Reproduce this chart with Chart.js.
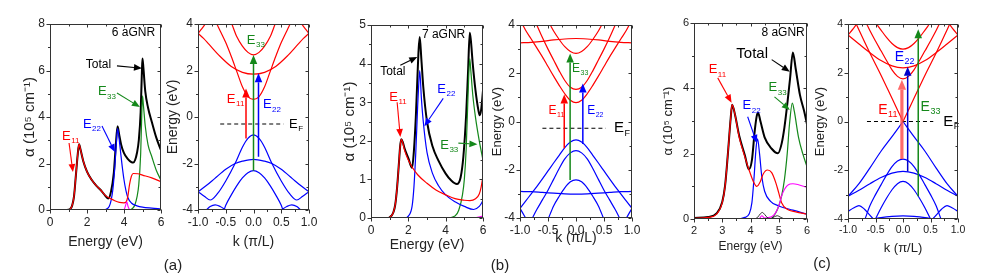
<!DOCTYPE html>
<html>
<head>
<meta charset="utf-8">
<title>aGNR absorption and band structures</title>
<script src="https://cdn.jsdelivr.net/npm/chart.js@4.4.1/dist/chart.umd.min.js"></script>
<style>
  body { margin: 0; background: #fff; }
  #page { position: relative; width: 981px; height: 279px; overflow: hidden; background: #fff;
          font-family: "Liberation Sans", Arial, sans-serif; }
  #page canvas { position: absolute; }
  .tag { position: absolute; width: 40px; text-align: center; font-size: 15px; line-height: 18px; color: #222; }
</style>
</head>
<body>
<div id="page">
  <canvas id="absA"></canvas>
  <canvas id="bandA"></canvas>
  <canvas id="absB"></canvas>
  <canvas id="bandB"></canvas>
  <canvas id="absC"></canvas>
  <canvas id="bandC"></canvas>
  <div class="tag" style="left:153px;top:256px">(a)</div>
  <div class="tag" style="left:480px;top:256px">(b)</div>
  <div class="tag" style="left:802px;top:254px">(c)</div>
</div>
<script>
const RED = '#ff0000', BLUE = '#0000ff', GREEN = '#14881a', BLACK = '#000000', MAGENTA = '#ff00ff';
const FONT = '"Liberation Sans", Arial, sans-serif';

// ---- (a) 6 aGNR absorption: energy (eV) / alpha (10^5 cm^-1)
const e6Red = [0, 0.8, 1.0, 1.1, 1.2, 1.3, 1.4, 1.5, 1.57, 1.65, 1.8, 2.0, 2.25, 2.5, 2.75, 3.0, 3.25, 3.5, 3.75, 4.0, 4.1, 4.2, 4.3, 4.4, 4.5, 4.75, 5.0, 5.5, 6.0];
const a6Red = [0, 0, 0.01, 0.05, 0.2, 0.6, 1.5, 2.4, 2.83, 2.6, 2.1, 1.65, 1.3, 1.05, 0.85, 0.62, 0.5, 0.4, 0.33, 0.31, 0.33, 0.55, 1.1, 1.45, 1.57, 1.56, 1.5, 1.38, 1.22];
const e6Blue = [0, 2.8, 3.0, 3.2, 3.3, 3.4, 3.5, 3.58, 3.65, 3.7, 3.8, 3.9, 4.0, 4.1, 4.2, 4.4, 4.7, 5.0, 5.5, 6.0];
const a6Blue = [0, 0, 0.02, 0.15, 0.4, 0.9, 1.8, 2.8, 3.5, 3.3, 2.6, 1.9, 1.3, 0.85, 0.55, 0.3, 0.18, 0.12, 0.08, 0.05];
const e6Green = [0, 4.3, 4.5, 4.6, 4.7, 4.8, 4.9, 4.95, 5.0, 5.05, 5.15, 5.3, 5.5, 5.75, 6.0];
const a6Green = [0, 0, 0.1, 0.25, 0.55, 1.1, 2.4, 3.8, 4.91, 4.5, 3.6, 2.8, 2.3, 1.7, 1.28];
const e6Mag = [3.9, 4.0, 4.07, 4.15, 4.22, 4.3, 4.4];
const a6Mag = [0, 0.02, 0.15, 0.35, 0.15, 0.02, 0];
const e6Tot = [0, 0.8, 1.0, 1.1, 1.2, 1.3, 1.4, 1.5, 1.57, 1.65, 1.8, 2.0, 2.25, 2.5, 2.75, 3.0, 3.15, 3.3, 3.45, 3.55, 3.65, 3.75, 3.85, 4.0, 4.2, 4.4, 4.5, 4.6, 4.7, 4.8, 4.9, 4.97, 5.0, 5.05, 5.15, 5.3, 5.5, 5.75, 6.0];
const a6Tot = [0, 0, 0.01, 0.05, 0.2, 0.6, 1.5, 2.4, 2.83, 2.6, 2.1, 1.65, 1.3, 1.05, 0.85, 0.6, 0.49, 0.8, 1.6, 2.7, 3.6, 3.2, 2.8, 2.45, 2.2, 2.06, 2.04, 2.15, 2.45, 3.0, 4.2, 6.0, 6.52, 6.1, 5.1, 4.4, 3.8, 3.1, 2.57];

// ---- (a) 6 aGNR bands: [k (pi/L), E (eV)] for k >= 0, mirrored to k < 0
const c6a = [[0, 0.76], [0.1, 0.88], [0.2, 1.3], [0.3, 1.95], [0.4, 2.6], [0.5, 3.2], [0.6, 3.7], [0.66, 4.0]];
const c6b = [[0, 1.84], [0.2, 1.92], [0.4, 2.17], [0.6, 2.6], [0.8, 3.12], [0.9, 3.38], [1.0, 3.6]];
const c6c = [[0, 2.67], [0.1, 2.78], [0.2, 3.05], [0.3, 3.45], [0.39, 4.0]];
const c6d = [[0.87, 4.0], [0.93, 3.8], [1.0, 3.6]];
const v6a = [[0, -0.77], [0.1, -0.92], [0.2, -1.3], [0.33, -1.99], [0.5, -2.75], [0.65, -3.3], [0.78, -3.57], [0.88, -3.42], [1.0, -3.21]];
const v6b = [[0, -1.82], [0.2, -1.9], [0.33, -2.0], [0.5, -2.25], [0.7, -2.65], [0.85, -2.95], [1.0, -3.21]];
const v6c = [[0, -2.31], [0.1, -2.4], [0.2, -2.62], [0.3, -2.95], [0.4, -3.35], [0.5, -3.8], [0.53, -4.0]];
const v6d = [[0.5, -4.0], [0.6, -3.85], [0.69, -3.78], [0.78, -3.85], [0.85, -4.0]];

// ---- (b) 7 aGNR absorption
const e7Red = [0, 0.9, 1.0, 1.1, 1.2, 1.3, 1.4, 1.5, 1.56, 1.62, 1.7, 1.8, 2.0, 2.2, 2.5, 3.0, 3.5, 4.0, 4.5, 5.0, 5.3, 5.6, 5.8, 5.9, 6.0];
const a7Red = [0, 0, 0.02, 0.06, 0.15, 0.35, 0.8, 1.45, 1.85, 2.04, 1.95, 1.75, 1.5, 1.32, 1.12, 0.9, 0.72, 0.6, 0.5, 0.46, 0.45, 0.5, 0.62, 0.8, 1.09];
const e7Blue = [0, 1.8, 2.0, 2.2, 2.3, 2.4, 2.5, 2.55, 2.61, 2.7, 2.8, 3.0, 3.3, 3.6, 4.0, 4.5, 5.0, 5.5, 5.8, 6.0];
const a7Blue = [0, 0, 0.05, 0.3, 0.8, 1.7, 2.9, 3.4, 3.82, 3.1, 2.5, 1.7, 1.15, 0.85, 0.6, 0.42, 0.3, 0.22, 0.3, 0.45];
const e7Green = [0, 4.0, 4.5, 4.7, 4.9, 5.0, 5.1, 5.2, 5.29, 5.35, 5.45, 5.6, 5.8, 6.0];
const a7Green = [0, 0, 0.05, 0.2, 0.6, 1.0, 1.8, 3.2, 4.13, 3.8, 3.2, 2.6, 2.0, 1.5];
const e7Mag = [0, 5.5, 6.0];
const a7Mag = [0, 0, 0.05];
const e7Tot = [0, 0.9, 1.0, 1.1, 1.2, 1.3, 1.4, 1.5, 1.56, 1.62, 1.7, 1.8, 2.0, 2.2, 2.3, 2.4, 2.5, 2.55, 2.61, 2.7, 2.8, 3.0, 3.3, 3.6, 4.0, 4.3, 4.6, 4.8, 4.95, 5.1, 5.2, 5.29, 5.35, 5.45, 5.6, 5.75, 5.82, 5.9, 6.0];
const a7Tot = [0, 0, 0.02, 0.06, 0.15, 0.35, 0.8, 1.45, 1.85, 2.04, 1.97, 1.8, 1.55, 1.3, 1.75, 2.6, 3.8, 4.35, 4.69, 4.1, 3.4, 2.5, 1.85, 1.5, 1.15, 0.97, 0.88, 1.05, 1.6, 2.7, 3.8, 4.8, 4.6, 4.0, 3.3, 2.8, 2.66, 2.8, 3.3];

// ---- (b) 7 aGNR bands
const c7a = [[0, 0.78], [0.1, 0.88], [0.2, 1.15], [0.3, 1.5], [0.4, 1.88], [0.5, 2.28], [0.6, 2.68], [0.7, 3.05], [0.8, 3.42], [0.9, 3.78], [0.95, 4.0]];
const c7b = [[0, 1.33], [0.1, 1.42], [0.2, 1.7], [0.3, 2.1], [0.4, 2.55], [0.5, 3.0], [0.6, 3.48], [0.7, 4.0]];
const c7c = [[0, 2.82], [0.1, 2.9], [0.2, 3.1], [0.3, 3.4], [0.4, 3.75], [0.46, 4.0]];
const c7d = [[0, 3.44], [0.2, 3.42], [0.4, 3.38], [0.6, 3.32], [0.8, 3.28], [1.0, 3.26]];
const v7a = [[0, -0.76], [0.1, -0.85], [0.2, -1.08], [0.3, -1.4], [0.4, -1.72], [0.5, -2.05], [0.6, -2.38], [0.7, -2.7], [0.8, -3.0], [0.9, -3.3], [1.0, -3.6]];
const v7b = [[0, -1.21], [0.1, -1.3], [0.2, -1.55], [0.3, -1.95], [0.4, -2.4], [0.5, -2.85], [0.6, -3.25], [0.7, -3.65], [0.78, -4.0]];
const v7c = [[0, -2.42], [0.1, -2.5], [0.2, -2.75], [0.3, -3.1], [0.4, -3.5], [0.49, -4.0]];
const v7d = [[0, -3.01], [0.2, -3.0], [0.4, -2.97], [0.6, -2.94], [0.8, -2.91], [1.0, -2.9]];
const v7e = [[0.9, -4.0], [0.95, -3.8], [1.0, -3.6]];

// ---- (c) 8 aGNR absorption
const e8Red = [2, 2.5, 2.8, 3.0, 3.1, 3.2, 3.3, 3.35, 3.45, 3.6, 3.8, 3.95, 4.1, 4.22, 4.35, 4.45, 4.6, 4.75, 4.9, 5.0, 5.1, 5.3, 5.6, 6.0];
const a8Red = [0.02, 0.05, 0.15, 0.5, 1.0, 2.0, 3.1, 3.5, 3.2, 2.5, 1.9, 1.5, 1.15, 1.0, 1.15, 1.38, 1.5, 1.42, 1.1, 0.8, 0.5, 0.3, 0.22, 0.15];
const e8Blue = [2, 3.5, 3.8, 3.95, 4.05, 4.12, 4.2, 4.25, 4.32, 4.4, 4.5, 4.7, 5.0, 5.5, 6.0];
const a8Blue = [0, 0, 0.05, 0.15, 0.5, 1.2, 2.2, 2.45, 2.0, 1.3, 0.85, 0.55, 0.4, 0.27, 0.15];
const e8Green = [2, 4.7, 4.9, 5.0, 5.1, 5.2, 5.3, 5.38, 5.48, 5.55, 5.7, 5.85, 6.0];
const a8Green = [0, 0, 0.2, 0.4, 0.7, 1.2, 2.0, 2.9, 3.55, 3.3, 2.5, 2.0, 1.6];
const e8Mag = [2, 4.3, 4.4, 4.5, 4.8, 5.0, 5.1, 5.2, 5.3, 5.4, 5.5, 5.7, 6.0];
const a8Mag = [0, 0, 0.1, 0.03, 0.1, 0.4, 0.7, 0.9, 1.02, 1.07, 1.08, 1.05, 0.97];
const e8Small = [4.15, 4.25, 4.35, 4.42, 4.5, 4.6, 4.7];
const a8Small = [0, 0.05, 0.16, 0.2, 0.14, 0.04, 0];
const e8Small2 = [4.7, 4.85, 4.95, 5.05, 5.2];
const a8Small2 = [0, 0.07, 0.1, 0.06, 0];
const e8Tot = [2, 2.5, 2.8, 3.0, 3.1, 3.2, 3.3, 3.35, 3.45, 3.6, 3.8, 3.94, 4.05, 4.15, 4.22, 4.27, 4.35, 4.5, 4.75, 4.97, 5.1, 5.2, 5.3, 5.4, 5.5, 5.6, 5.75, 5.9, 6.0];
const a8Tot = [0.03, 0.06, 0.17, 0.52, 1.02, 2.0, 3.1, 3.5, 3.2, 2.55, 1.95, 1.52, 1.8, 2.7, 3.15, 3.25, 3.0, 2.5, 2.15, 2.01, 2.3, 2.8, 3.5, 4.3, 5.1, 4.6, 3.8, 3.3, 2.9];

// ---- (c) 8 aGNR bands
const c8a = [[0, 0], [0.2, 0.95], [0.4, 1.9], [0.6, 2.8], [0.8, 3.75], [0.85, 4.0]];
const c8b = [[0, 1.75], [0.1, 1.85], [0.2, 2.12], [0.3, 2.5], [0.4, 2.9], [0.5, 3.3], [0.6, 3.72], [0.66, 4.0]];
const c8c = [[0, 2.2], [0.2, 2.28], [0.4, 2.5], [0.6, 2.82], [0.8, 3.18], [1.0, 3.55]];
const c8d = [[0, 2.97], [0.1, 3.03], [0.2, 3.2], [0.3, 3.45], [0.4, 3.75], [0.48, 4.0]];
const c8e = [[0.84, 4.0], [0.9, 3.82], [1.0, 3.55]];
const v8a = [[0, 0], [0.2, -0.62], [0.4, -1.22], [0.6, -1.9], [0.8, -2.55], [1.0, -3.07]];
const v8b = [[0, -1.54], [0.1, -1.62], [0.2, -1.85], [0.3, -2.2], [0.4, -2.6], [0.5, -3.0], [0.6, -3.45], [0.69, -4.0]];
const v8c = [[0, -2.05], [0.2, -2.12], [0.4, -2.3], [0.6, -2.55], [0.8, -2.82], [1.0, -3.07]];
const v8d = [[0, -2.46], [0.1, -2.55], [0.2, -2.8], [0.3, -3.15], [0.4, -3.55], [0.5, -4.0]];
const v8e = [[0, -3.87], [0.2, -3.89], [0.4, -3.94], [0.55, -4.0]];
const v8f = [[0.54, -4.0], [0.62, -3.8], [0.7, -3.6], [0.8, -3.45], [0.9, -3.55], [1.0, -3.69]];

function spec(xs, ys, color, width) {
    return line(xs.map((x, i) => ({x: x, y: ys[i]})), color, width);
}

function line(points, color, width) {
    return {data: points, borderColor: color, borderWidth: width, showLine: true,
        pointRadius: 0, fill: false, cubicInterpolationMode: 'monotone'};
}

// half band (k >= 0) -> one curve through k = 0, or a left piece and a right piece
function mirror(pts, join) {
    const left = pts.filter(p => p[0] > 0).map(p => ({x: -p[0], y: p[1]})).reverse();
    const right = pts.map(p => ({x: p[0], y: p[1]}));
    if (pts[0][0] !== 0) return [left, right];
    if (join) return [left.concat(right)];
    return [left.concat([right[0]]), right];
}

function bands(list, color, join = true) {
    let out = [];
    list.forEach(b => mirror(b, join).forEach(seg => out.push(line(seg, color, 1.2))));
    return out;
}

function arrow(ctx, x1, y1, x2, y2, color, width, head) {
    const ang = Math.atan2(y2 - y1, x2 - x1);
    const bx = x2 - head * Math.cos(ang), by = y2 - head * Math.sin(ang);
    const hw = head * 0.42;
    ctx.strokeStyle = color;
    ctx.fillStyle = color;
    ctx.lineWidth = width;
    ctx.beginPath();
    ctx.moveTo(x1, y1);
    ctx.lineTo(bx, by);
    ctx.stroke();
    ctx.beginPath();
    ctx.moveTo(x2, y2);
    ctx.lineTo(bx + hw * Math.sin(ang), by - hw * Math.cos(ang));
    ctx.lineTo(bx - hw * Math.sin(ang), by + hw * Math.cos(ang));
    ctx.closePath();
    ctx.fill();
}

function eLabel(ctx, x, y, sub, color, size) {
    ctx.fillStyle = color;
    ctx.textAlign = 'left';
    ctx.textBaseline = 'middle';
    ctx.font = size + 'px ' + FONT;
    ctx.fillText('E', x, y);
    const w = ctx.measureText('E').width;
    ctx.font = Math.round(size * 0.62) + 'px ' + FONT;
    ctx.fillText(sub, x + w + 0.5, y + size * 0.36);
}

// annotations, positions in data coordinates
function notesPlugin(notes) {
    return {
        id: 'notes',
        afterDatasetsDraw(chart) {
            const {ctx, scales: {x, y}} = chart;
            const px = v => x.getPixelForValue(v), py = v => y.getPixelForValue(v);
            ctx.save();
            (notes.dashes || []).forEach(d => {
                ctx.setLineDash([4, 3]);
                ctx.strokeStyle = '#000';
                ctx.lineWidth = 1.1;
                ctx.beginPath();
                ctx.moveTo(px(d.x1), py(d.y));
                ctx.lineTo(px(d.x2), py(d.y));
                ctx.stroke();
                ctx.setLineDash([]);
            });
            (notes.arrows || []).forEach(a => arrow(ctx, px(a.from[0]), py(a.from[1]), px(a.to[0]), py(a.to[1]),
                a.color, a.width || 1.1, a.head || 8));
            (notes.texts || []).forEach(t => {
                ctx.fillStyle = t.color || '#000';
                ctx.font = t.size + 'px ' + FONT;
                ctx.textAlign = t.align || 'left';
                ctx.textBaseline = 'middle';
                ctx.fillText(t.t, px(t.x), py(t.y));
            });
            (notes.subs || []).forEach(s => eLabel(ctx, px(s.x), py(s.y), s.sub, s.color, s.size));
            ctx.restore();
        }
    };
}

// box round the plot, outer ticks bottom/left, short inner ticks top/right
const framePlugin = {
    id: 'frame',
    afterDraw(chart) {
        const {ctx, chartArea: a, scales: {x, y}} = chart;
        const L = Math.round(a.left) + 0.5, R = Math.round(a.right) - 0.5;
        const T = Math.round(a.top) + 0.5, B = Math.round(a.bottom) - 0.5;
        ctx.save();
        ctx.strokeStyle = '#333';
        ctx.lineWidth = 1;
        ctx.strokeRect(L, T, R - L, B - T);
        ctx.beginPath();
        x.ticks.forEach(t => {
            const p = Math.round(x.getPixelForValue(t.value)) + 0.5;
            const major = t.label !== '';
            ctx.moveTo(p, B); ctx.lineTo(p, B + (major ? 4 : 2.5));
            ctx.moveTo(p, T); ctx.lineTo(p, T + (major ? 3 : 2));
        });
        y.ticks.forEach(t => {
            const p = Math.round(y.getPixelForValue(t.value)) + 0.5;
            const major = t.label !== '';
            ctx.moveTo(L, p); ctx.lineTo(L - (major ? 4 : 2.5), p);
            ctx.moveTo(R, p); ctx.lineTo(R - (major ? 3 : 2), p);
        });
        ctx.stroke();
        ctx.restore();
    }
};

const evenLabel = v => (Math.round(v) % 2 === 0 && Math.abs(v - Math.round(v)) < 1e-6) ? String(Math.round(v)) : '';
const intLabel = v => Math.abs(v - Math.round(v)) < 1e-6 ? String(Math.round(v)) : '';
const kLabel = v => Math.round(v * 4) % 2 === 0 ? v.toFixed(1) : '';

function makePanel(cfg) {
    const [cl, ct, cw, ch] = cfg.canvas;
    const [pl, pt, pr, pb] = cfg.plot;
    const el = document.getElementById(cfg.id);
    el.width = cw;
    el.height = ch;
    el.style.left = cl + 'px';
    el.style.top = ct + 'px';
    const axis = (ax, horiz, size) => ({
        type: 'linear', min: ax.min, max: ax.max,
        ticks: {stepSize: ax.step, autoSkip: false, maxRotation: 0, padding: 5, color: '#222',
            font: {family: FONT, size: cfg.tickSize}, callback: ax.label},
        grid: {display: false, drawTicks: false},
        border: {display: false},
        title: {display: true, text: ax.title, color: '#222', font: {family: FONT, size: ax.titleSize},
            padding: horiz ? {top: 0, bottom: ct + ch - ax.titleAt - ax.titleSize * 0.6}
                           : {top: ax.titleAt - cl - ax.titleSize * 0.6, bottom: 0}},
        afterFit(s) {
            if (horiz) s.height = size; else s.width = size;
            s.paddingLeft = s.paddingRight = s.paddingTop = s.paddingBottom = 0;
        }
    });
    return new Chart(el, {
        type: 'scatter',
        data: {datasets: cfg.datasets},
        options: {
            responsive: false, animation: false, devicePixelRatio: 1,
            layout: {padding: {top: pt - ct, right: cl + cw - pr, left: 0, bottom: 0}},
            plugins: {legend: {display: false}, tooltip: {enabled: false}},
            scales: {x: axis(cfg.x, true, ct + ch - pb), y: axis(cfg.y, false, pl - cl)}
        },
        plugins: [framePlugin, notesPlugin(cfg.notes)]
    });
}

const ALPHA = 'α (10⁵ cm⁻¹)';

makePanel({
    id: 'absA', canvas: [0, 0, 170, 255], plot: [50, 24, 161, 210], tickSize: 12,
    x: {min: 0, max: 6, step: 1, label: evenLabel, title: 'Energy (eV)', titleSize: 14, titleAt: 242},
    y: {min: 0, max: 8, step: 1, label: evenLabel, title: ALPHA, titleSize: 15, titleAt: 30},
    datasets: [spec(e6Mag, a6Mag, MAGENTA, 1.1), spec(e6Red, a6Red, RED, 1.2), spec(e6Blue, a6Blue, BLUE, 1.2),
        spec(e6Green, a6Green, GREEN, 1.2), spec(e6Tot, a6Tot, BLACK, 2)],
    notes: {
        texts: [{x: 5.68, y: 7.61, t: '6 aGNR', align: 'right', size: 12}, {x: 2.62, y: 6.24, t: 'Total', align: 'center', size: 12}],
        subs: [{x: 2.59, y: 5.08, sub: '33', color: GREEN, size: 13}, {x: 1.78, y: 3.7, sub: '22', color: BLUE, size: 13},
            {x: 0.65, y: 3.18, sub: '11', color: RED, size: 13}],
        arrows: [{from: [3.62, 6.2], to: [4.97, 6.1], color: BLACK}, {from: [3.62, 5.03], to: [4.86, 4.43], color: GREEN},
            {from: [2.81, 3.61], to: [3.51, 2.49], color: BLUE}, {from: [1.03, 2.88], to: [1.24, 1.63], color: RED}]
    }
});

makePanel({
    id: 'bandA', canvas: [162, 0, 156, 255], plot: [198, 24, 309, 210], tickSize: 12,
    x: {min: -1, max: 1, step: 0.25, label: kLabel, title: 'k (π/L)', titleSize: 14, titleAt: 242},
    y: {min: -4, max: 4, step: 1, label: evenLabel, title: 'Energy (eV)', titleSize: 14, titleAt: 173},
    datasets: bands([c6a, c6b, c6c, c6d], RED).concat(bands([v6a, v6b, v6c, v6d], BLUE)),
    notes: {
        dashes: [{x1: -0.6, x2: 0.54, y: -0.3}],
        arrows: [{from: [-0.135, -0.92], to: [-0.135, 1.23], color: RED, width: 1.5, head: 9},
            {from: [0, -2.31], to: [0, 2.67], color: GREEN, width: 1.5, head: 9},
            {from: [0.09, -1.71], to: [0.09, 1.88], color: BLUE, width: 1.5, head: 9}],
        subs: [{x: -0.48, y: 0.77, sub: '11', color: RED, size: 13}, {x: 0.17, y: 0.52, sub: '22', color: BLUE, size: 13},
            {x: -0.12, y: 3.31, sub: '33', color: GREEN, size: 13}, {x: 0.64, y: -0.3, sub: 'F', color: '#000', size: 13}]
    }
});

makePanel({
    id: 'absB', canvas: [330, 0, 160, 262], plot: [371, 25, 483, 218], tickSize: 12,
    x: {min: 0, max: 6, step: 1, label: evenLabel, title: 'Energy (eV)', titleSize: 14, titleAt: 245},
    y: {min: 0, max: 5, step: 0.5, label: intLabel, title: ALPHA, titleSize: 15, titleAt: 350},
    datasets: [spec(e7Mag, a7Mag, MAGENTA, 1.1), spec(e7Red, a7Red, RED, 1.2), spec(e7Blue, a7Blue, BLUE, 1.2),
        spec(e7Green, a7Green, GREEN, 1.2), spec(e7Tot, a7Tot, BLACK, 2)],
    notes: {
        texts: [{x: 5.05, y: 4.76, t: '7 aGNR', align: 'right', size: 12}, {x: 1.17, y: 3.78, t: 'Total', align: 'center', size: 12}],
        subs: [{x: 0.98, y: 3.13, sub: '11', color: RED, size: 13}, {x: 3.55, y: 3.34, sub: '22', color: BLUE, size: 13},
            {x: 3.71, y: 1.89, sub: '33', color: GREEN, size: 13}],
        arrows: [{from: [1.57, 3.96], to: [2.48, 4.17], color: BLACK}, {from: [1.4, 3.0], to: [1.57, 2.1], color: RED},
            {from: [3.87, 3.1], to: [2.86, 2.38], color: BLUE}, {from: [4.68, 1.94], to: [5.7, 1.91], color: GREEN}]
    }
});

makePanel({
    id: 'bandB', canvas: [488, 0, 152, 255], plot: [520, 25, 632, 218], tickSize: 12,
    x: {min: -1, max: 1, step: 0.25, label: kLabel, title: 'k (π/L)', titleSize: 14, titleAt: 238},
    y: {min: -4, max: 4, step: 1, label: evenLabel, title: 'Energy (eV)', titleSize: 13, titleAt: 497},
    datasets: bands([c7a, c7b, c7c, c7d], RED).concat(bands([v7a, v7b, v7c, v7d, v7e], BLUE)),
    notes: {
        dashes: [{x1: -0.6, x2: 0.53, y: -0.28}],
        arrows: [{from: [-0.21, -1.11], to: [-0.21, 1.12], color: RED, width: 1.5, head: 9},
            {from: [-0.105, -2.42], to: [-0.105, 2.82], color: GREEN, width: 1.5, head: 9},
            {from: [0.122, -0.93], to: [0.122, 1.58], color: BLUE, width: 1.5, head: 9}],
        subs: [{x: -0.49, y: 0.43, sub: '11', color: RED, size: 12}, {x: 0.2, y: 0.43, sub: '22', color: BLUE, size: 12},
            {x: -0.07, y: 2.17, sub: '33', color: GREEN, size: 12}, {x: 0.68, y: -0.28, sub: 'F', color: '#000', size: 15}]
    }
});

makePanel({
    id: 'absC', canvas: [650, 0, 165, 262], plot: [694, 23, 807, 219], tickSize: 11,
    x: {min: 2, max: 6, step: 0.5, label: intLabel, title: 'Energy (eV)', titleSize: 12, titleAt: 247},
    y: {min: 0, max: 6, step: 1, label: evenLabel, title: ALPHA, titleSize: 13, titleAt: 668},
    datasets: [spec(e8Small, a8Small, BLACK, 0.8), spec(e8Small2, a8Small2, BLACK, 0.8), spec(e8Mag, a8Mag, MAGENTA, 1.1),
        spec(e8Red, a8Red, RED, 1.2), spec(e8Blue, a8Blue, BLUE, 1.2), spec(e8Green, a8Green, GREEN, 1.2),
        spec(e8Tot, a8Tot, BLACK, 2)],
    notes: {
        texts: [{x: 5.92, y: 5.7, t: '8 aGNR', align: 'right', size: 12}, {x: 4.06, y: 5.06, t: 'Total', align: 'center', size: 15}],
        subs: [{x: 2.52, y: 4.57, sub: '11', color: RED, size: 13}, {x: 3.72, y: 3.47, sub: '22', color: BLUE, size: 13},
            {x: 4.64, y: 4.02, sub: '33', color: GREEN, size: 13}],
        arrows: [{from: [4.75, 4.88], to: [5.39, 4.51], color: BLACK}, {from: [2.84, 4.32], to: [3.33, 3.56], color: RED},
            {from: [3.9, 3.13], to: [4.22, 2.33], color: BLUE}, {from: [4.85, 3.74], to: [5.39, 3.34], color: GREEN}]
    }
});

makePanel({
    id: 'bandC', canvas: [812, 0, 169, 255], plot: [848, 24, 958, 219], tickSize: 10.5,
    x: {min: -1, max: 1, step: 0.25, label: kLabel, title: 'k (π/L)', titleSize: 13, titleAt: 248},
    y: {min: -4, max: 4, step: 1, label: evenLabel, title: 'Energy (eV)', titleSize: 13, titleAt: 820},
    datasets: bands([c8a], RED, false).concat(bands([c8b, c8c, c8d, c8e], RED))
        .concat(bands([v8a], BLUE, false)).concat(bands([v8b, v8c, v8d, v8e, v8f], BLUE)),
    notes: {
        dashes: [{x1: -0.655, x2: 0.55, y: 0}],
        arrows: [{from: [-0.02, -1.54], to: [-0.02, 1.71], color: 'rgba(255,80,80,0.85)', width: 3.2, head: 10},
            {from: [0.085, -2.05], to: [0.085, 2.25], color: '#0000cc', width: 1.5, head: 9},
            {from: [0.277, -3.07], to: [0.277, 3.78], color: GREEN, width: 1.5, head: 9}],
        subs: [{x: -0.45, y: 0.48, sub: '11', color: RED, size: 14}, {x: -0.15, y: 2.65, sub: '22', color: BLUE, size: 14},
            {x: 0.32, y: 0.6, sub: '33', color: GREEN, size: 14}, {x: 0.73, y: 0.0, sub: 'F', color: '#000', size: 15}]
    }
});
</script>
</body>
</html>
